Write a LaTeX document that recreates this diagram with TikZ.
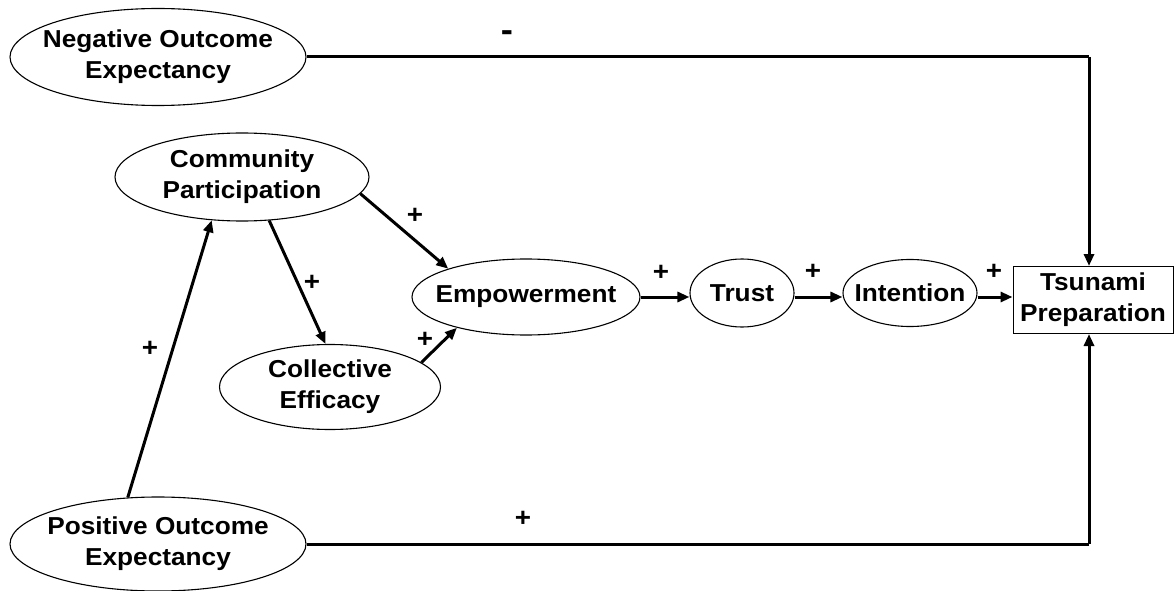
\documentclass[tikz,border=0pt]{standalone}
\usepackage{fontspec}
\setmainfont{Liberation Sans}[FakeStretch=1.07]
\usetikzlibrary{shapes.geometric,arrows.meta}
\begin{document}
\begin{tikzpicture}[x=1pt,y=-1pt,
  oval/.style={draw,ellipse,line width=1.1pt,inner sep=0pt},
  tbox/.style={draw,rectangle,line width=1pt,inner sep=0pt},
  txt/.style={font=\fontsize{24.5}{31}\selectfont\bfseries,align=center,inner sep=0pt},
  lab/.style={font=\fontsize{26}{26}\selectfont\bfseries,inner sep=0pt},
  conn/.style={line width=3pt},
  arr/.style={line width=3pt,-{Triangle[length=12pt,width=10pt]}}]
\useasboundingbox (0,0) rectangle (1176,591);
% nodes
\node[oval,minimum width=296pt,minimum height=97pt] (neg) at (158,57) {};
\node[txt] (negt) at (neg) {Negative Outcome\\Expectancy};
\node[oval,minimum width=254pt,minimum height=88pt] (cp) at (242,177) {};
\node[txt] (cpt) at (cp) {Community\\Participation};
\node[oval,minimum width=221pt,minimum height=85pt] (ce) at (330,387) {};
\node[txt] (cet) at (ce) {Collective\\Efficacy};
\node[oval,minimum width=228pt,minimum height=76pt] (emp) at (526,297) {};
\node[txt] (empt) at (emp) {Empowerment};
\node[oval,minimum width=104pt,minimum height=68pt] (trust) at (742,293) {};
\node[txt] (trustt) at (trust) {Trust};
\node[oval,minimum width=134pt,minimum height=67pt] (int) at (910,293) {};
\node[txt] (intt) at (int) {Intention};
\node[tbox,minimum width=160pt,minimum height=67pt] (box) at (1093,300) {};
\node[txt] (boxt) at (box) {Tsunami\\Preparation};
\node[oval,minimum width=296pt,minimum height=94pt] (poe) at (158,544) {};
\node[txt] (poet) at (poe) {Positive Outcome\\Expectancy};
% helper coordinates
\coordinate (ay) at (0,297);
\coordinate (tr) at (1089,57);
\coordinate (br) at (1089,544);
% connectors
\draw[conn] (neg.east) -- (tr);
\draw[arr] (tr) -- (tr |- box.north);
\draw[conn] (poe.east) -- (br);
\draw[arr] (br) -- (br |- box.south);
\draw[arr] (poe.123) -- (cp.235);
\draw[arr] (cp.-58) -- (ce.96);
\draw[arr] (cp.-8) -- (emp.160);
\draw[arr] (ce.15) -- (emp.204);
\draw[arr] (emp.east) -- (trust.west |- ay);
\draw[arr] (trust.east |- ay) -- (int.west |- ay);
\draw[arr] (int.east |- ay) -- (box.west |- ay);
% labels
\node[lab,font=\fontsize{34}{34}\selectfont\bfseries] (l1) at (507,36) {-};
\node[lab] (l2) at (523,519) {+};
\node[lab] (l3) at (150,349) {+};
\node[lab] (l4) at (312,283) {+};
\node[lab] (l5) at (415,216) {+};
\node[lab] (l6) at (425,340) {+};
\node[lab] (l7) at (661,273) {+};
\node[lab] (l8) at (813,272) {+};
\node[lab] (l9) at (994,272) {+};
\end{tikzpicture}
\end{document}
